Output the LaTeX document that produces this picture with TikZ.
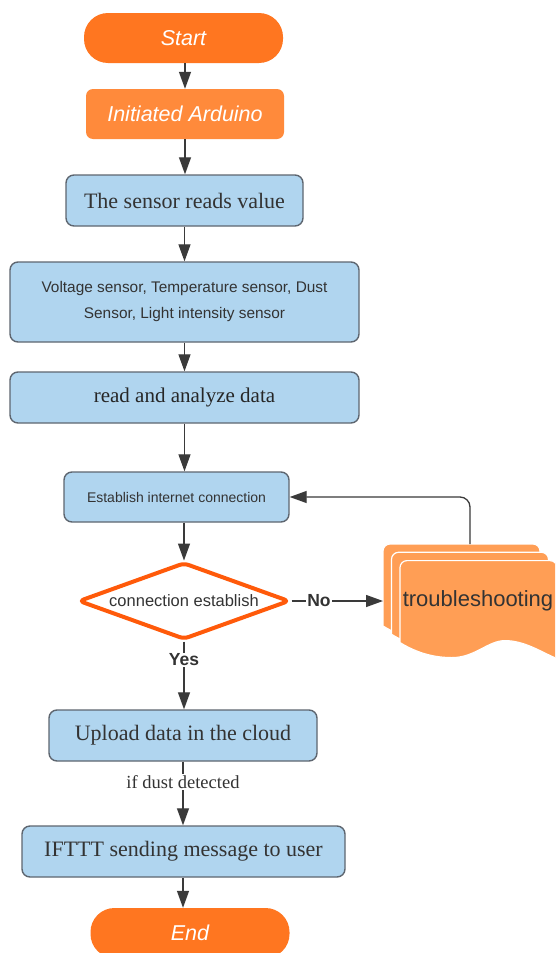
\documentclass[tikz,border=0pt]{standalone}
\usepackage{fontspec}
\setmainfont{Liberation Serif}
\setsansfont{Liberation Sans}
\usetikzlibrary{arrows.meta,shapes.geometric}

\definecolor{termorange}{HTML}{FF7620}
\definecolor{initorange}{HTML}{FF8A3B}
\definecolor{boxblue}{HTML}{B0D5EF}
\definecolor{boxedge}{HTML}{5E6670}
\definecolor{linegray}{HTML}{3A3A3A}
\definecolor{decisionedge}{HTML}{FF5A0A}
\definecolor{troubleorange}{HTML}{FF9E55}
\definecolor{textgray}{HTML}{333333}

\begin{document}
\begin{tikzpicture}[x=1pt,y=-1pt,
  terminal/.style={fill=termorange, rounded corners=24pt, minimum width=199pt,
    minimum height=50pt, inner sep=0pt, text=white,
    font=\sffamily\itshape\fontsize{21.5}{24}\selectfont},
  initbox/.style={fill=initorange, rounded corners=7pt, minimum width=198pt,
    minimum height=50pt, inner sep=0pt, text=white,
    font=\sffamily\itshape\fontsize{21.5}{24}\selectfont},
  procbox/.style={fill=boxblue, draw=boxedge, line width=1.4pt, rounded corners=8pt,
    inner sep=0pt, text=textgray, align=center},
  serifbig/.style={font=\rmfamily\fontsize{22}{26}\selectfont},
  decision/.style={shape=diamond, aspect=2.8, draw=decisionedge, fill=white,
    line width=4pt, rounded corners=5pt, minimum width=211pt, minimum height=77pt,
    inner sep=0pt, text=textgray, font=\sffamily\fontsize{16.5}{20}\selectfont},
  conn/.style={draw=linegray, line width=1.3pt, -{Triangle[length=17pt,width=12pt]}},
  branchlabel/.style={fill=white, inner sep=1pt, text=textgray,
    font=\sffamily\bfseries\fontsize{17.5}{20}\selectfont},
  layer/.style={fill=troubleorange, draw=white, line width=1.2pt}
]
\clip (0,0) rectangle (555,953);
\fill[white] (0,0) rectangle (555,953);

% main column
\node[terminal] (start) at (183.5,38) {Start};
\node[initbox] (init) at (185,114) {Initiated Arduino};
\node[procbox, serifbig, minimum width=237pt, minimum height=51pt] (sensor)
  at (184.5,200.5) {The sensor reads value};
\node[procbox, minimum width=349pt, minimum height=80pt,
  font=\sffamily\fontsize{15.4}{26}\selectfont] (volt) at (184.5,302)
  {Voltage sensor, Temperature sensor, Dust\\Sensor, Light intensity sensor};
\node[procbox, font=\rmfamily\fontsize{21}{26}\selectfont, text=black!85,
  minimum width=349pt, minimum height=51pt] (read)
  at (184.5,397.5) {read and analyze data};
\node[procbox, minimum width=225pt, minimum height=50pt,
  font=\sffamily\fontsize{14}{17}\selectfont] (est) at (176.5,497)
  {Establish internet connection};
\node[decision] (dia) at (184,601) {connection establish};
\node[procbox, serifbig, minimum width=268pt, minimum height=51pt] (upload)
  at (183,735.5) {Upload data in the cloud};
\node[procbox, serifbig, minimum width=323pt, minimum height=51pt] (ifttt)
  at (183.5,851.5) {IFTTT sending message to user};
\node[terminal] (end) at (190,933) {End};

% stacked documents: troubleshooting
\foreach \dx/\dy in {0/0, 8.5/8.3, 17/16.6}{
  \begin{scope}[shift={(383+\dx,544+\dy)}]
    \path[layer] (0,40) [rounded corners=7pt] -- (0,0) -- (157,0) -- (157,40)
      [sharp corners] -- (157,98)
      .. controls (142,92) and (125,80) .. (105,80)
      .. controls (88,80) and (75,97) .. (52,97)
      .. controls (35,97) and (18,93) .. (0,82) -- cycle;
  \end{scope}
}
\node[text=textgray, font=\sffamily\fontsize{22}{26}\selectfont] (trouble)
  at (478,601) {troubleshooting};
\coordinate (tsin) at (383,601);
\coordinate (tsout) at (470,544);

% connectors
\draw[conn] (start.south -| init.south) -- (init.north);
\draw[conn] (init.south) -- (init.south |- sensor.north);
\draw[conn] (sensor.south) -- (sensor.south |- volt.north);
\draw[conn] (volt.south) -- (read.north);
\draw[conn] (read.south) -- (read.south |- est.north);
\draw[conn] (dia.north |- est.south) -- (dia.north);
\draw[conn] (dia.east) -- node[branchlabel, pos=0.3] {No} (tsin);
\draw[conn, rounded corners=10pt] (tsout) |- (est.east);
\draw[conn] (dia.south) -- node[branchlabel, pos=0.27] {Yes} (dia.south |- upload.north);
\draw[conn] (upload.south) -- node[fill=white, inner sep=1pt, text=textgray,
  font=\rmfamily\fontsize{18.5}{22}\selectfont, pos=0.32] {if dust detected}
  (upload.south |- ifttt.north);
\draw[conn] (ifttt.south -| upload.south) -- (upload.south |- end.north);
\end{tikzpicture}
\end{document}
